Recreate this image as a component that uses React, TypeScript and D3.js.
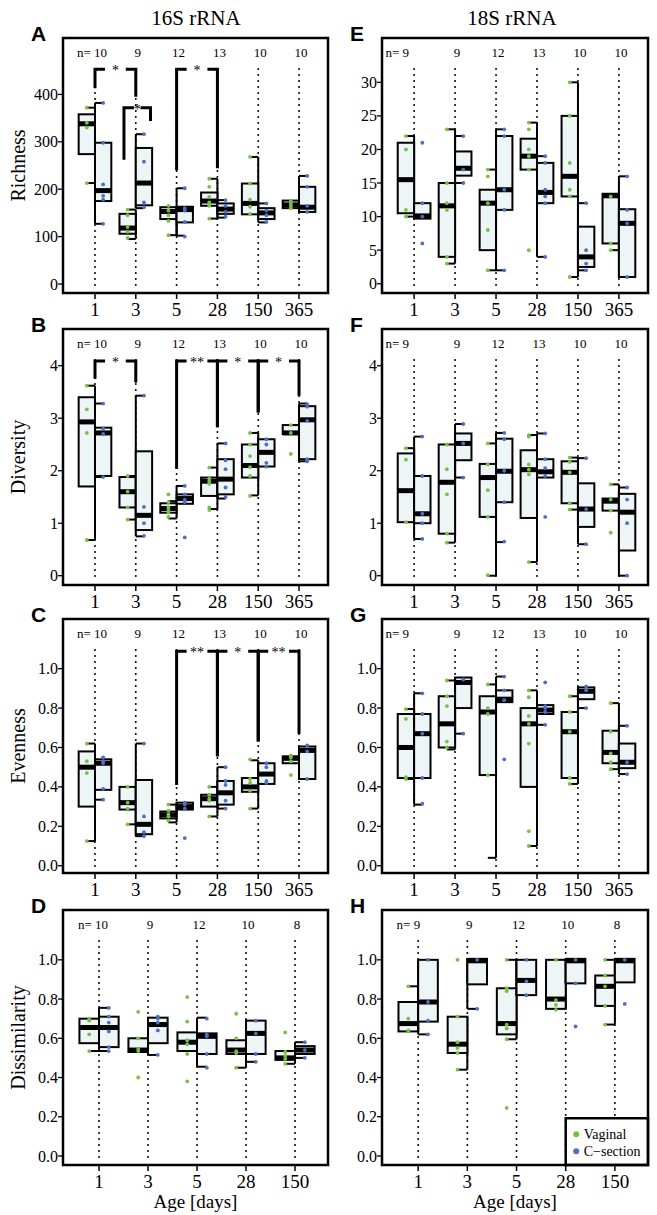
import React from "react";
import * as d3 from "d3";

// ---------- categories & counts ----------
const ages6 = ["1", "3", "5", "28", "150", "365"];
const ages5 = ["1", "3", "5", "28", "150"];
const n16S = [10, 9, 12, 13, 10, 10];
const n18S = [9, 9, 12, 13, 10, 10];
const nDis16S = [10, 9, 12, 10, 8];
const nDis18S = [9, 9, 12, 10, 8];

// box stats: [whiskerLow, q1, median, q3, whiskerHigh]
// ---------- A: 16S richness ----------
const richVagBox = [[213, 274, 338, 358, 372], [95, 106, 118, 148, 157], [103, 137, 153, 162, 162], [138, 165, 175, 193, 222], [147, 147, 170, 212, 268], [160, 160, 167, 176, 176]];
const richCsBox = [[127, 175, 197, 298, 382], [160, 166, 213, 287, 316], [102, 130, 157, 163, 202], [140, 148, 158, 170, 177], [130, 137, 150, 160, 170], [152, 152, 162, 205, 228]];
const richVagPts = [[372, 340, 330, 213], [157, 145, 120, 110, 97], [165, 155, 145, 133, 103], [222, 205, 184, 172, 165, 138], [268, 212, 178, 163, 148], [175, 170, 165, 160]];
const richCsPts = [[382, 298, 210, 186, 178, 127], [316, 258, 172, 162], [202, 160, 155, 131, 100], [177, 165, 152, 142], [170, 155, 145, 131], [228, 205, 165, 152]];

// ---------- B: 16S diversity ----------
const divVagBox = [[0.68, 1.7, 2.93, 3.4, 3.62], [1.07, 1.3, 1.6, 1.88, 1.9], [1.09, 1.2, 1.28, 1.38, 1.42], [1.27, 1.52, 1.8, 1.87, 2.06], [1.53, 1.87, 2.1, 2.5, 2.72], [2.7, 2.7, 2.72, 2.87, 2.87]];
const divCsBox = [[1.88, 1.9, 2.72, 2.82, 3.28], [0.75, 0.87, 1.15, 2.37, 3.43], [1.37, 1.37, 1.47, 1.55, 1.71], [1.47, 1.55, 1.84, 2.22, 2.52], [2.08, 2.08, 2.35, 2.6, 2.6], [2.18, 2.22, 2.97, 3.23, 3.28]];
const divVagPts = [[3.62, 3.17, 2.72, 0.68], [1.9, 1.6, 1.3, 1.07], [1.55, 1.4, 1.3, 1.25, 1.2, 1.12], [2.06, 1.85, 1.8, 1.75, 1.3, 1.25], [2.72, 2.5, 2.28, 2.07, 1.9, 1.52], [2.87, 2.72, 2.32]];
const divCsPts = [[3.28, 2.8, 2.7, 1.88], [3.43, 1.31, 1.0, 0.76], [1.71, 1.55, 1.45, 1.4, 0.73], [2.52, 2.2, 2.03, 1.68, 1.5], [2.6, 2.5, 2.15, 2.08], [3.27, 3.22, 2.95, 2.22, 2.18]];

// ---------- C: 16S evenness ----------
const evVagBox = [[0.125, 0.3, 0.5, 0.58, 0.62], [0.21, 0.285, 0.32, 0.4, 0.4], [0.22, 0.24, 0.258, 0.275, 0.31], [0.25, 0.3, 0.34, 0.36, 0.4], [0.29, 0.375, 0.4, 0.445, 0.535], [0.52, 0.52, 0.545, 0.555, 0.555]];
const evCsBox = [[0.335, 0.385, 0.52, 0.54, 0.54], [0.15, 0.16, 0.21, 0.435, 0.62], [0.285, 0.285, 0.3, 0.32, 0.32], [0.29, 0.31, 0.37, 0.43, 0.5], [0.415, 0.415, 0.465, 0.52, 0.52], [0.44, 0.44, 0.585, 0.605, 0.605]];
const evVagPts = [[0.62, 0.53, 0.47, 0.125], [0.4, 0.32, 0.29, 0.21], [0.31, 0.28, 0.26, 0.25, 0.23], [0.4, 0.36, 0.34, 0.33, 0.25], [0.54, 0.44, 0.42, 0.38, 0.29], [0.56, 0.55, 0.53, 0.46]];
const evCsPts = [[0.55, 0.53, 0.52, 0.39, 0.335], [0.62, 0.25, 0.17, 0.15], [0.32, 0.31, 0.29, 0.14], [0.5, 0.43, 0.41, 0.33, 0.29], [0.52, 0.5, 0.43, 0.42], [0.61, 0.58, 0.44]];

// ---------- D: 16S dissimilarity ----------
const disVagBox = [[0.535, 0.575, 0.655, 0.7, 0.7], [0.53, 0.53, 0.54, 0.6, 0.6], [0.535, 0.535, 0.58, 0.63, 0.63], [0.45, 0.52, 0.54, 0.59, 0.59], [0.47, 0.49, 0.5, 0.535, 0.535]];
const disCsBox = [[0.535, 0.555, 0.655, 0.71, 0.755], [0.515, 0.575, 0.67, 0.705, 0.705], [0.455, 0.52, 0.61, 0.625, 0.705], [0.48, 0.52, 0.625, 0.69, 0.69], [0.5, 0.52, 0.54, 0.56, 0.58]];
const disVagPts = [[0.7, 0.69, 0.62, 0.535], [0.735, 0.6, 0.545, 0.535, 0.4], [0.81, 0.685, 0.59, 0.57, 0.52, 0.38], [0.725, 0.6, 0.535, 0.525, 0.45], [0.63, 0.53, 0.51, 0.495, 0.47]];
const disCsPts = [[0.755, 0.71, 0.68, 0.635, 0.555, 0.535], [0.71, 0.7, 0.68, 0.64, 0.515], [0.7, 0.62, 0.61, 0.52, 0.45], [0.69, 0.625, 0.52, 0.48], [0.58, 0.54, 0.5]];

// ---------- E: 18S richness ----------
const rich18VagBox = [[10, 10.5, 15.5, 21, 22], [3, 4, 11.6, 15, 23], [2, 5, 12, 14, 17], [17, 17, 19, 21.6, 24], [1, 13, 16, 25, 30], [5, 6, 13.1, 13.4, 13.4]];
const rich18CsBox = [[9.7, 9.7, 10.1, 12, 12], [15, 16.1, 17.2, 19.7, 22], [2, 11, 14, 22, 23], [4, 12, 13.6, 18, 19], [2, 2.5, 4, 8.5, 12], [1, 1, 9, 11.1, 16]];
const rich18VagPts = [[22, 20, 11, 10], [23, 15, 12, 11, 4, 3], [17, 16, 12, 8, 2], [24, 23, 20, 19, 17, 5], [30, 25, 18, 14, 13, 1], [13, 6, 5]];
const rich18CsPts = [[21, 12, 10, 6], [22, 17, 15], [23, 22, 14, 11, 2], [19, 18, 14, 13, 12, 4], [12, 5, 3, 2], [16, 11, 9, 1]];

// ---------- F: 18S diversity ----------
const div18VagBox = [[1.02, 1.02, 1.62, 2.33, 2.43], [0.63, 0.8, 1.78, 2.5, 2.5], [0.0, 1.12, 1.87, 2.13, 2.52], [0.26, 1.1, 2.02, 2.39, 2.68], [1.26, 1.38, 1.97, 2.18, 2.25], [1.24, 1.24, 1.42, 1.47, 1.74]];
const div18CsBox = [[0.7, 1.0, 1.18, 1.9, 2.65], [1.87, 2.2, 2.52, 2.71, 2.89], [0.64, 1.4, 1.99, 2.61, 2.72], [1.87, 1.87, 1.98, 2.22, 2.71], [0.6, 0.93, 1.27, 1.76, 2.24], [0.0, 0.48, 1.21, 1.56, 1.68]];
const div18VagPts = [[2.43, 2.21, 1.02], [2.5, 2.03, 1.55, 0.8, 0.63], [2.52, 2.12, 1.63, 1.12, 0.01], [2.68, 2.65, 2.12, 2.02, 1.93, 0.26], [2.25, 2.17, 1.97, 1.38, 1.26], [1.74, 1.45, 1.24, 0.82]];
const div18CsPts = [[2.65, 1.9, 1.18, 1.0, 0.7], [2.89, 2.52, 1.87], [2.72, 2.6, 2.0, 1.4, 0.65], [2.71, 2.22, 2.05, 1.9, 1.12], [2.24, 1.27, 0.6], [1.68, 1.45, 1.0, 0.0]];

// ---------- G: 18S evenness ----------
const ev18VagBox = [[0.44, 0.445, 0.6, 0.77, 0.795], [0.59, 0.6, 0.72, 0.86, 0.94], [0.04, 0.46, 0.78, 0.86, 0.92], [0.1, 0.4, 0.72, 0.8, 0.89], [0.415, 0.445, 0.68, 0.78, 0.86], [0.49, 0.52, 0.575, 0.685, 0.825]];
const ev18CsBox = [[0.31, 0.445, 0.67, 0.77, 0.875], [0.67, 0.8, 0.93, 0.955, 0.955], [0.83, 0.83, 0.845, 0.89, 0.96], [0.715, 0.77, 0.79, 0.815, 0.815], [0.8, 0.845, 0.885, 0.905, 0.905], [0.465, 0.495, 0.525, 0.62, 0.71]];
const ev18VagPts = [[0.795, 0.745, 0.45, 0.44], [0.94, 0.86, 0.81, 0.63, 0.6], [0.92, 0.8, 0.77, 0.46], [0.89, 0.855, 0.76, 0.72, 0.62, 0.175, 0.1], [0.86, 0.78, 0.68, 0.445, 0.415], [0.825, 0.68, 0.57, 0.525, 0.49]];
const ev18CsPts = [[0.875, 0.77, 0.67, 0.445, 0.315], [0.945, 0.67], [0.96, 0.89, 0.84, 0.54], [0.93, 0.81, 0.8, 0.78, 0.715], [0.91, 0.89, 0.8], [0.71, 0.525, 0.465]];

// ---------- H: 18S dissimilarity ----------
const dis18VagBox = [[0.635, 0.635, 0.675, 0.785, 0.865], [0.44, 0.525, 0.57, 0.71, 0.71], [0.595, 0.62, 0.675, 0.855, 1.0], [0.75, 0.75, 0.8, 1.0, 1.0], [0.67, 0.765, 0.865, 0.92, 1.0]];
const dis18CsBox = [[0.62, 0.685, 0.785, 1.0, 1.0], [0.75, 0.875, 0.995, 1.005, 1.005], [0.82, 0.82, 0.895, 1.0, 1.0], [0.88, 0.88, 0.995, 1.005, 1.005], [0.885, 0.885, 0.995, 1.005, 1.005]];
const dis18VagPts = [[0.865, 0.7, 0.64, 0.635], [1.0, 0.71, 0.58, 0.55, 0.525, 0.44], [1.0, 0.855, 0.84, 0.67, 0.65, 0.595, 0.245], [1.0, 0.795, 0.77, 0.745], [1.0, 0.92, 0.865, 0.765, 0.67]];
const dis18CsPts = [[1.0, 0.785, 0.69, 0.62], [1.0, 0.75], [1.0, 0.89, 0.82], [1.0, 0.88, 0.66], [1.0, 0.775]];

// ---------- significance brackets (category index a,b; y top; leg feet) ----------
type Bracket = { a: number; b: number; top: number; footA: number; footB: number; label: string };
const richBrackets: Bracket[] = [
  { a: 0, b: 1, top: 453, footA: 413, footB: 395, label: "*" },
  { a: 0.71, b: 1.36, top: 372, footA: 262, footB: 344, label: "*" },
  { a: 2, b: 3, top: 453, footA: 240, footB: 244, label: "*" },
];
const divBrackets: Bracket[] = [
  { a: 0, b: 1, top: 4.09, footA: 3.75, footB: 3.68, label: "*" },
  { a: 2, b: 3, top: 4.09, footA: 2.04, footB: 2.83, label: "**" },
  { a: 3, b: 4, top: 4.09, footA: 2.83, footB: 3.11, label: "*" },
  { a: 4, b: 5, top: 4.09, footA: 3.11, footB: 3.43, label: "*" },
];
const evBrackets: Bracket[] = [
  { a: 2, b: 3, top: 1.088, footA: 0.41, footB: 0.555, label: "**" },
  { a: 3, b: 4, top: 1.088, footA: 0.555, footB: 0.63, label: "*" },
  { a: 4, b: 5, top: 1.088, footA: 0.63, footB: 0.67, label: "**" },
];

// ---------- axis ticks ----------
const richTicks = [0, 100, 200, 300, 400];
const divTicks = [0, 1, 2, 3, 4];
const unitTicks = [0, 0.2, 0.4, 0.6, 0.8, 1.0];
const rich18Ticks = [0, 5, 10, 15, 20, 25, 30];

// ---------- layout ----------
const colLeft = [63, 382];
const colRight = [328, 648];
const rowTop = [38, 329, 619, 910];
const rowBottom = [293, 585, 873, 1165];
const GREEN = "#78c043";
const BLUE = "#4e6fc6";
const BOXFILL = "#eef5f6";
const SERIF = "'Liberation Serif', 'Times New Roman', serif";
const SANS = "'Liberation Sans', Arial, sans-serif";

type PanelCfg = {
  id: string; col: number; row: number; title: string | null;
  cats: string[]; n: number[]; vagBox: number[][]; csBox: number[][];
  vagPts: number[][]; csPts: number[][]; yDomain: [number, number];
  ticks: number[]; fmt: (v: number) => string; brackets: Bracket[];
  nFirst: number; xTitle: boolean; legend: boolean;
};

const fInt = (v: number) => d3.format("d")(v);
const f1 = (v: number) => d3.format(".1f")(v);

const panels: PanelCfg[] = [
  { id: "A", col: 0, row: 0, title: "Richness", cats: ages6, n: n16S, vagBox: richVagBox, csBox: richCsBox, vagPts: richVagPts, csPts: richCsPts, yDomain: [-19, 519], ticks: richTicks, fmt: fInt, brackets: richBrackets, nFirst: 12, xTitle: false, legend: false },
  { id: "B", col: 0, row: 1, title: "Diversity", cats: ages6, n: n16S, vagBox: divVagBox, csBox: divCsBox, vagPts: divVagPts, csPts: divCsPts, yDomain: [-0.177, 4.7], ticks: divTicks, fmt: fInt, brackets: divBrackets, nFirst: 12, xTitle: false, legend: false },
  { id: "C", col: 0, row: 2, title: "Evenness", cats: ages6, n: n16S, vagBox: evVagBox, csBox: evCsBox, vagPts: evVagPts, csPts: evCsPts, yDomain: [-0.037, 1.252], ticks: unitTicks, fmt: f1, brackets: evBrackets, nFirst: 12, xTitle: false, legend: false },
  { id: "D", col: 0, row: 3, title: "Dissimilarity", cats: ages5, n: nDis16S, vagBox: disVagBox, csBox: disCsBox, vagPts: disVagPts, csPts: disCsPts, yDomain: [-0.046, 1.254], ticks: unitTicks, fmt: f1, brackets: [], nFirst: 9, xTitle: true, legend: false },
  { id: "E", col: 1, row: 0, title: null, cats: ages6, n: n18S, vagBox: rich18VagBox, csBox: rich18CsBox, vagPts: rich18VagPts, csPts: rich18CsPts, yDomain: [-1.38, 36.6], ticks: rich18Ticks, fmt: fInt, brackets: [], nFirst: -5, xTitle: false, legend: false },
  { id: "F", col: 1, row: 1, title: null, cats: ages6, n: n18S, vagBox: div18VagBox, csBox: div18CsBox, vagPts: div18VagPts, csPts: div18CsPts, yDomain: [-0.177, 4.7], ticks: divTicks, fmt: fInt, brackets: [], nFirst: -5, xTitle: false, legend: false },
  { id: "G", col: 1, row: 2, title: null, cats: ages6, n: n18S, vagBox: ev18VagBox, csBox: ev18CsBox, vagPts: ev18VagPts, csPts: ev18CsPts, yDomain: [-0.037, 1.252], ticks: unitTicks, fmt: f1, brackets: [], nFirst: -5, xTitle: false, legend: false },
  { id: "H", col: 1, row: 3, title: null, cats: ages5, n: nDis18S, vagBox: dis18VagBox, csBox: dis18CsBox, vagPts: dis18VagPts, csPts: dis18CsPts, yDomain: [-0.046, 1.254], ticks: unitTicks, fmt: f1, brackets: [], nFirst: 2, xTitle: true, legend: true },
];

function Panel({ p }: { p: PanelCfg }) {
  const left = colLeft[p.col], right = colRight[p.col];
  const top = rowTop[p.row], bottom = rowBottom[p.row];
  const k = p.cats.length;
  const xDom = k === 6 ? [-0.784, 5.71] : [-0.735, 4.673];
  const x = d3.scaleLinear().domain(xDom).range([left, right]);
  const y = d3.scaleLinear().domain(p.yDomain).range([bottom, top]);
  const bw = x(0.4) - x(0);
  const idx = d3.range(k);

  const sides: { s: number; box: number[][]; pts: number[][]; color: string }[] = [
    { s: -1, box: p.vagBox, pts: p.vagPts, color: GREEN },
    { s: 1, box: p.csBox, pts: p.csPts, color: BLUE },
  ];
  const legTop = y(0.2) + 1.5;

  return (
    <g>
      <rect x={left} y={top} width={right - left} height={bottom - top} fill="white" />
      {idx.map((i) => (
        <line key={"d" + i} x1={x(i)} x2={x(i)} y1={top + 31} y2={bottom - 4}
          stroke="black" strokeWidth={2} strokeDasharray="0 6" strokeLinecap="round" />
      ))}
      {p.brackets.map((b, j) => {
        const xa = x(b.a), xb = x(b.b), yt = y(b.top);
        return (
          <g key={"b" + j}>
            <path d={`M${xa + 10},${yt}H${xa}V${y(b.footA)}`} fill="none" stroke="black" strokeWidth={3} />
            <path d={`M${xb - 10},${yt}H${xb}V${y(b.footB)}`} fill="none" stroke="black" strokeWidth={3} />
            <text x={(xa + xb) / 2} y={yt + 6} textAnchor="middle" fontFamily={SERIF} fontSize={14} fill="black">{b.label}</text>
          </g>
        );
      })}
      {sides.map(({ s, box }) =>
        idx.map((i) => {
          const [lo, q1, med, q3, hi] = box[i];
          const cx = x(i);
          const x0 = s < 0 ? cx - bw : cx;
          return (
            <g key={"bx" + s + i}>
              <line x1={cx} x2={cx} y1={y(lo)} y2={y(hi)} stroke="black" strokeWidth={2} />
              {lo < q1 && <line x1={cx} x2={cx + (s * bw) / 2} y1={y(lo)} y2={y(lo)} stroke="black" strokeWidth={2} />}
              {hi > q3 && <line x1={cx} x2={cx + (s * bw) / 2} y1={y(hi)} y2={y(hi)} stroke="black" strokeWidth={2} />}
              <rect x={x0} y={y(q3)} width={bw} height={Math.max(0.5, y(q1) - y(q3))} fill={BOXFILL} stroke="black" strokeWidth={2} />
              <rect x={x0} y={y(med) - 2.5} width={bw} height={5} fill="black" />
            </g>
          );
        })
      )}
      {sides.map(({ s, pts, color }) =>
        idx.map((i) =>
          pts[i].map((v, j) => (
            <circle key={"p" + s + i + "_" + j} cx={x(i) + (s * bw) / 2} cy={y(v)} r={1.9} fill={color} />
          ))
        )
      )}
      {idx.map((i) =>
        i === 0 ? (
          <text key={"n" + i} x={x(i) + p.nFirst} y={top + 19} textAnchor="end" fontFamily={SERIF} fontSize={13} fill="black">{"n= " + p.n[i]}</text>
        ) : (
          <text key={"n" + i} x={x(i) + 2} y={top + 19} textAnchor="middle" fontFamily={SERIF} fontSize={13} fill="black">{p.n[i]}</text>
        )
      )}
      {p.ticks.map((t) => (
        <g key={"yt" + t}>
          <line x1={left - 5} x2={left} y1={y(t)} y2={y(t)} stroke="black" strokeWidth={1.3} />
          <text x={left - 5} y={y(t)} dy="0.35em" textAnchor="end" fontFamily={SERIF} fontSize={16} fill="black">{p.fmt(t)}</text>
        </g>
      ))}
      {idx.map((i) => (
        <g key={"xt" + i}>
          <line x1={x(i)} x2={x(i)} y1={bottom} y2={bottom + 6} stroke="black" strokeWidth={1.5} />
          <text x={x(i)} y={bottom + 23} textAnchor="middle" fontFamily={SERIF} fontSize={19} fill="black">{p.cats[i]}</text>
        </g>
      ))}
      {p.xTitle && (
        <text x={(left + right) / 2} y={bottom + 43} textAnchor="middle" fontFamily={SERIF} fontSize={19} fill="black">Age [days]</text>
      )}
      {p.title && (
        <text transform={`translate(25,${(top + bottom) / 2}) rotate(-90)`} textAnchor="middle" fontFamily={SERIF} fontSize={20} fill="black">{p.title}</text>
      )}
      {p.legend && (
        <g>
          <rect x={x(3)} y={legTop} width={right - x(3)} height={bottom - legTop} fill="white" stroke="black" strokeWidth={2.5} />
          <circle cx={x(3) + 10.5} cy={legTop + 16} r={3} fill={GREEN} />
          <text x={x(3) + 18} y={legTop + 20.5} fontFamily={SERIF} fontSize={14} fill="black">Vaginal</text>
          <circle cx={x(3) + 10.5} cy={legTop + 33} r={3} fill={BLUE} />
          <text x={x(3) + 18} y={legTop + 37.5} fontFamily={SERIF} fontSize={14} fill="black">C−section</text>
        </g>
      )}
      <rect x={left} y={top} width={right - left} height={bottom - top} fill="none" stroke="black" strokeWidth={2.5} />
      <text x={left - 32} y={top + 3} fontFamily={SANS} fontWeight="bold" fontSize={21} fill="black">{p.id}</text>
    </g>
  );
}

export default function App() {
  return (
    <svg width={657} height={1215} style={{ display: "block", position: "absolute", left: 0, top: 0, background: "white" }}>
      <rect width={657} height={1215} fill="white" />
      <text x={196} y={25} textAnchor="middle" fontFamily={SERIF} fontSize={21} fill="black">16S rRNA</text>
      <text x={512} y={25} textAnchor="middle" fontFamily={SERIF} fontSize={21} fill="black">18S rRNA</text>
      {panels.map((p) => (
        <Panel key={p.id} p={p} />
      ))}
    </svg>
  );
}
